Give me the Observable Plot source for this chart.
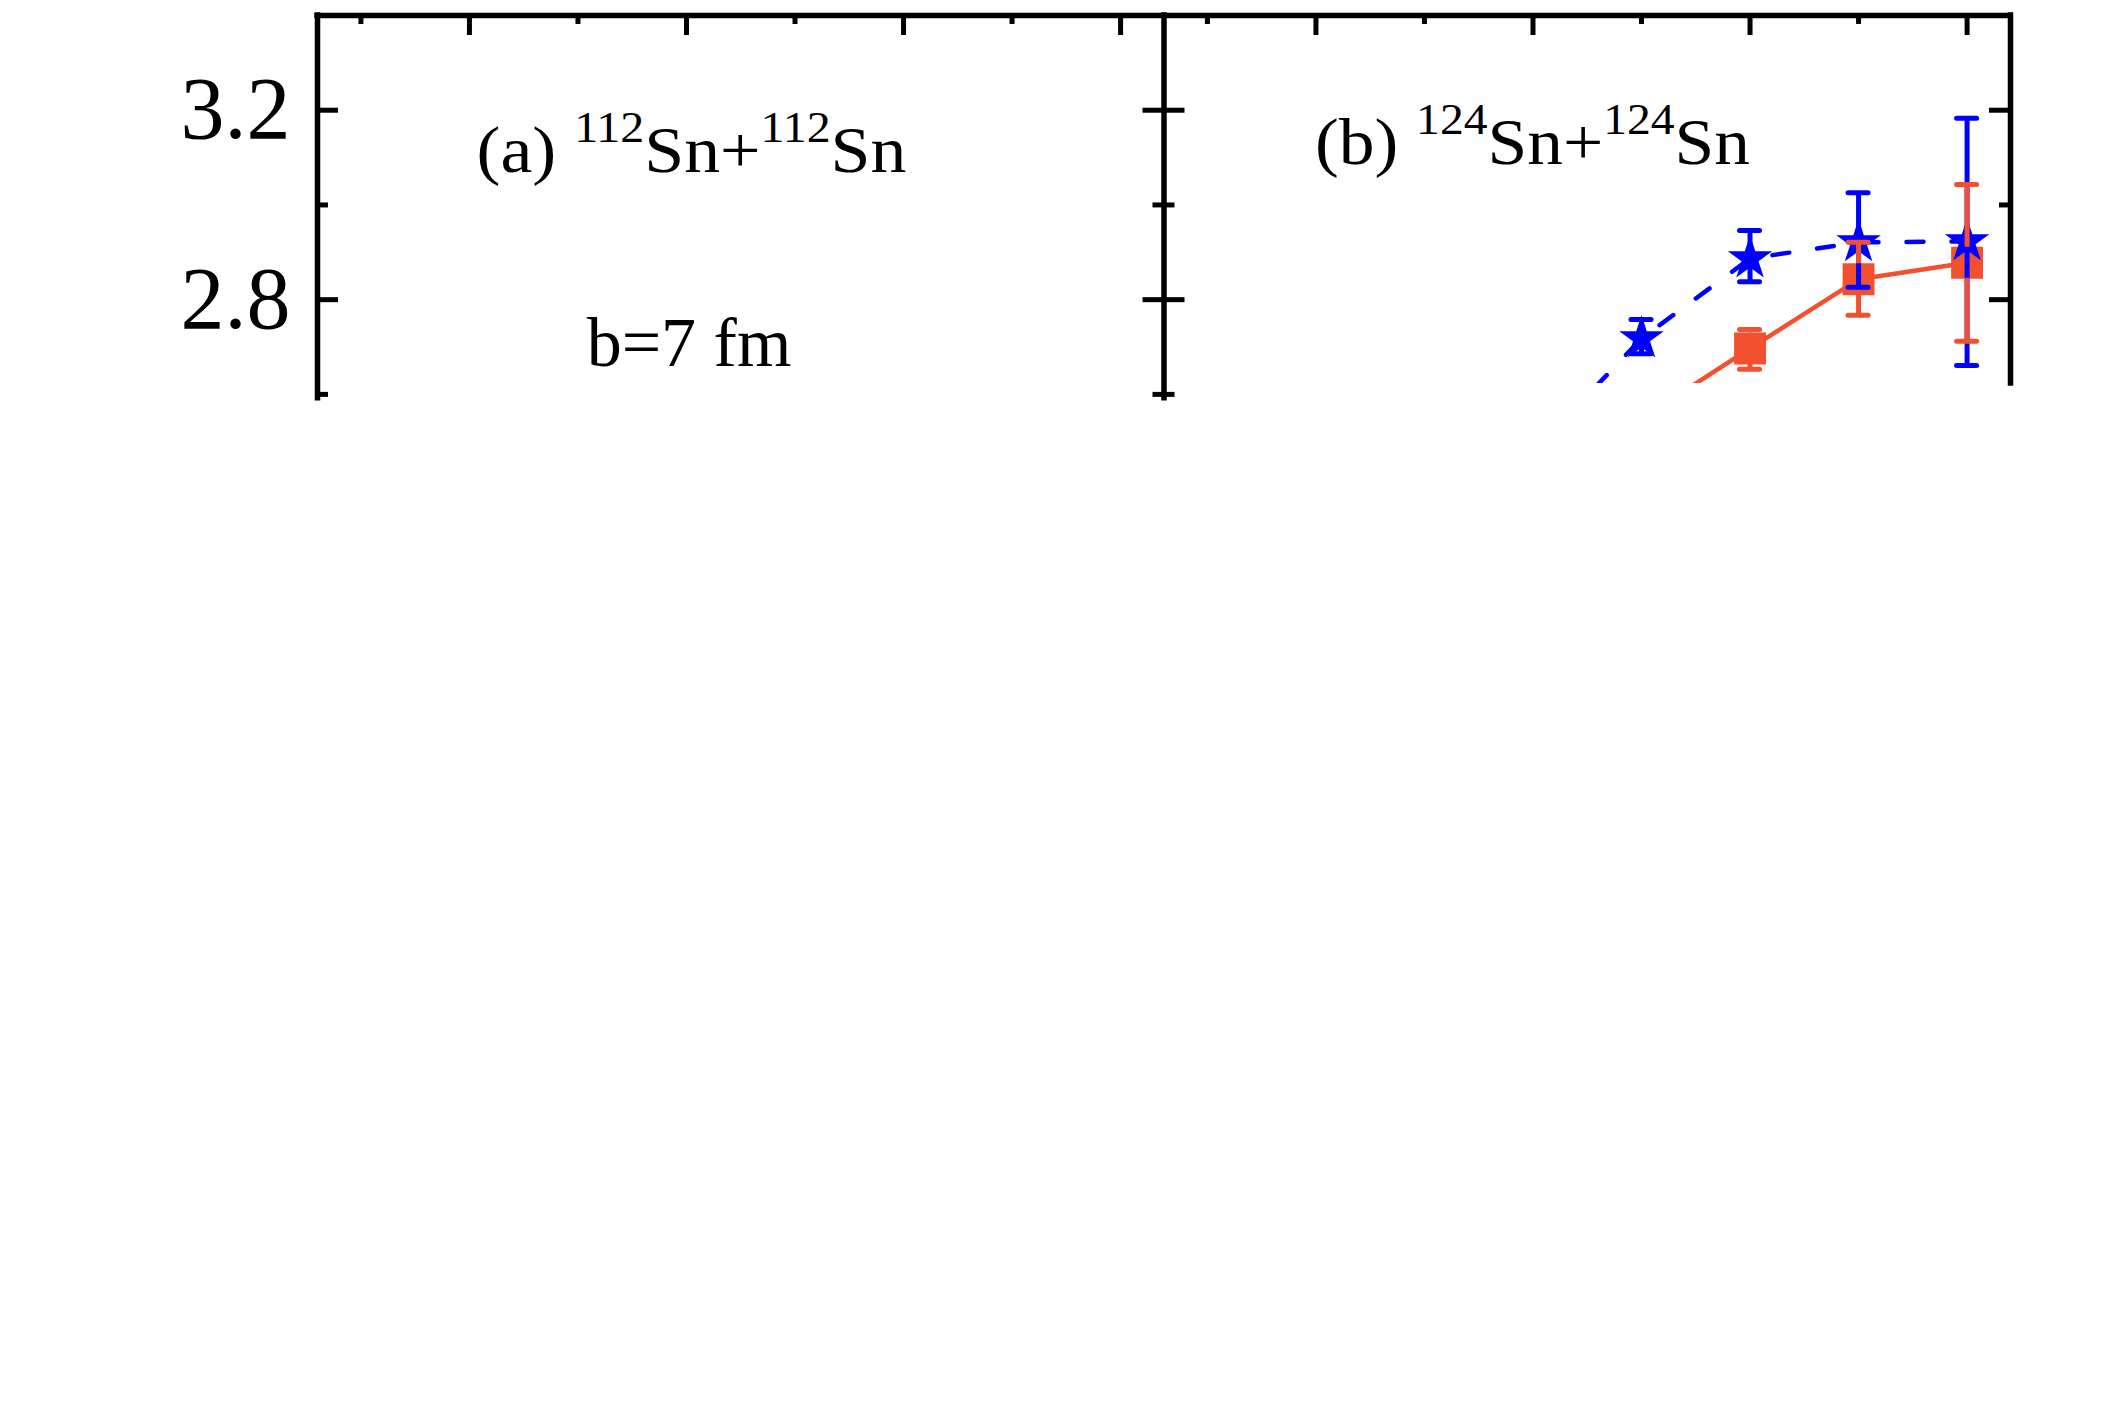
<!DOCTYPE html>
<html>
<head>
<meta charset="utf-8">
<script src="https://cdn.jsdelivr.net/npm/d3@7"></script>
<script src="https://cdn.jsdelivr.net/npm/@observablehq/plot@0.6"></script>
<style>
  html, body { margin: 0; padding: 0; background: #ffffff; }
  #chart { width: 2117px; height: 1419px; }
</style>
</head>
<body>
<div id="chart"></div>
<script>
// ---------------- data ----------------
const panels = ["a", "b"];
const panelTitles = ["(a) ^112Sn+^112Sn", "(b) ^124Sn+^124Sn"];
const impactLabel = "b=7 fm";

const xMajorTicks = [1, 2, 3, 4];
const xMinorTicks = [0.5, 1.5, 2.5, 3.5];
const yMajorTicks = [2.8, 3.2];
const yMinorTicks = [2.6, 3.0];
const yTickLabels = ["2.8", "3.2"];

// blue stars, dashed line (panel b)
const starX  = [2.0, 2.5, 3.0, 3.5, 4.0];
const starY  = [2.477, 2.718, 2.887, 2.921, 2.923];
const starLo = [null, 2.686, 2.838, 2.826, 2.661];
const starHi = [null, 2.758, 2.946, 3.026, 3.183];

// red squares, solid line (panel b)
const squareX  = [2.5, 3.0, 3.5, 4.0];
const squareY  = [2.549, 2.697, 2.843, 2.878];
const squareLo = [null, 2.653, 2.767, 2.712];
const squareHi = [null, 2.737, 2.921, 3.043];

// ---------------- layout ----------------
const W = 2117, H = 1419;
const mL = 317, mR = 107, mT = 15, mB = 1036;
const xDom = [0.3, 4.2];
const yDom = [2.623, 3.4];
const yAxisBottom = 2.5916;
const BLUE = "#0000ff", RED = "#f2502f";
const FONT = "Liberation Serif";

const kx = (W - mL - mR) / panels.length / (xDom[1] - xDom[0]); // px per x unit
const ky = (H - mT - mB) / (yDom[1] - yDom[0]);                 // px per y unit
const px2x = p => p / kx, px2y = p => p / ky;

const stars = starX.map((x, i) => ({panel: "b", x, y: starY[i], lo: starLo[i], hi: starHi[i]}));
const squares = squareX.map((x, i) => ({panel: "b", x, y: squareY[i], lo: squareLo[i], hi: squareHi[i]}));
const starErr = stars.filter(d => d.lo != null);
const squareErr = squares.filter(d => d.lo != null);
const sqHalf = px2y(15.5);
const squareErrSegs = squareErr.flatMap(d => [
  {panel: "b", x: d.x, y1: d.hi, y2: d.y + sqHalf},
  {panel: "b", x: d.x, y1: d.lo, y2: d.y - sqHalf}
]);
const capHalf = px2x(10);
const capsOf = arr => arr.flatMap(d => [{panel: "b", x: d.x, y: d.hi}, {panel: "b", x: d.x, y: d.lo}]);

const yTicks = [
  ...yMajorTicks.map(v => ({v, len: px2x(21)})),
  ...yMinorTicks.map(v => ({v, len: px2x(11)}))
];
const xTicks = [
  ...xMajorTicks.map(v => ({v, len: px2y(20)})),
  ...xMinorTicks.map(v => ({v, len: px2y(9)}))
];
const rightTicks = panels.flatMap(p => yTicks.filter(t => p === "a" || t.v > yDom[0]).map(t => ({...t, panel: p})));
const yLabelRows = yMajorTicks.map((v, i) => ({panel: "a", v, t: yTickLabels[i]}));

const titleRows = [
  {panel: "a", t: panelTitles[0], x: 1.0325, y: 3.0706},
  {panel: "b", t: panelTitles[1], x: 0.9957, y: 3.0854}
];
const titleWidthPx = [430, 435];
const impactRows = [{panel: "a", t: impactLabel, x: 1.540, y: 2.661}];

const axisStyle = {stroke: "black", strokeWidth: 5.5, strokeLinecap: "square"};
const tickStyle = {stroke: "black", strokeWidth: 5};

const chart = Plot.plot({
  width: W, height: H,
  marginLeft: mL, marginRight: mR, marginTop: mT, marginBottom: mB,
  style: {background: "#ffffff", overflow: "visible"},
  fx: {domain: panels, padding: 0, round: false, axis: null},
  x: {domain: xDom, axis: null},
  y: {domain: yDom, axis: null},
  marks: [
    // data
    Plot.line(squares, {x: "x", y: "y", fx: "panel", stroke: RED, strokeWidth: 4.5, clip: true}),
    Plot.line(stars, {x: "x", y: "y", fx: "panel", stroke: BLUE, strokeWidth: 4.5, strokeDasharray: "17,28", strokeLinecap: "round", clip: true}),
    Plot.dot(squares, {x: "x", y: "y", fx: "panel", symbol: "square", r: 18, fill: RED, stroke: "none", clip: true}),
    Plot.ruleX(starErr, {x: "x", y1: "lo", y2: "hi", fx: "panel", stroke: BLUE, strokeWidth: 5, clip: true}),
    Plot.ruleY(capsOf(starErr), {y: "y", x1: d => d.x - capHalf, x2: d => d.x + capHalf, fx: "panel", stroke: BLUE, strokeWidth: 5, strokeLinecap: "round", clip: true}),
    Plot.dot(stars, {x: "x", y: "y", fx: "panel", symbol: "star", r: 14, fill: BLUE, stroke: "none", clip: true}),
    Plot.ruleX(squareErrSegs, {x: "x", y1: "y1", y2: "y2", fx: "panel", stroke: RED, strokeWidth: 5, clip: true}),
    Plot.ruleY(capsOf(squareErr), {y: "y", x1: d => d.x - capHalf, x2: d => d.x + capHalf, fx: "panel", stroke: RED, strokeWidth: 5, strokeLinecap: "round", clip: true}),

    // frame lines
    Plot.ruleX([xDom[0]], {x: d => d, y1: yAxisBottom, y2: yDom[1], ...axisStyle}),
    Plot.ruleY([yDom[1]], {y: d => d, x1: xDom[0], x2: xDom[1], ...axisStyle}),
    Plot.ruleX([{panel: "b"}], {x: () => xDom[1], y1: yDom[0], y2: yDom[1], fx: "panel", ...axisStyle}),

    // inward ticks
    Plot.ruleY(yTicks, {y: "v", x1: xDom[0], x2: d => xDom[0] + d.len, ...tickStyle}),
    Plot.ruleY(rightTicks, {y: "v", x1: d => xDom[1] - d.len, x2: xDom[1], fx: "panel", ...tickStyle}),
    Plot.ruleX(xTicks, {x: "v", y1: yDom[1], y2: d => yDom[1] - d.len, ...tickStyle}),

    // text
    Plot.text(yLabelRows, {x: () => xDom[0], y: "v", text: "t", fx: "panel", dx: -27, textAnchor: "end", lineAnchor: "middle", fontSize: 88, fontFamily: FONT, fill: "black"}),
    Plot.text(titleRows, {x: "x", y: "y", text: "t", fx: "panel", textAnchor: "start", lineAnchor: "bottom", fontSize: 66, fontFamily: FONT, fill: "black"}),
    Plot.text(impactRows, {x: "x", y: "y", text: "t", fx: "panel", textAnchor: "start", lineAnchor: "bottom", fontSize: 70, fontFamily: FONT, fill: "black"})
  ]
});

// superscripts: "^112" -> raised, smaller tspan
const SUP_SIZE = 44, SUP_RAISE = 30;
chart.querySelectorAll("text").forEach(t => {
  const s = t.textContent;
  if (!s.includes("^")) return;
  const idx = panelTitles.indexOf(s);
  const parts = s.split(/\^(\d+)/);
  t.textContent = "";
  parts.forEach((p, i) => {
    const ts = document.createElementNS("http://www.w3.org/2000/svg", "tspan");
    if (i % 2 === 1) {
      ts.setAttribute("font-size", SUP_SIZE);
      ts.setAttribute("dy", -SUP_RAISE);
    } else if (i > 0) {
      ts.setAttribute("dy", SUP_RAISE);
    }
    ts.textContent = p;
    t.appendChild(ts);
  });
  if (idx >= 0) {
    t.setAttribute("textLength", titleWidthPx[idx]);
    t.setAttribute("lengthAdjust", "spacingAndGlyphs");
  }
});

document.getElementById("chart").appendChild(chart);
</script>
</body>
</html>
